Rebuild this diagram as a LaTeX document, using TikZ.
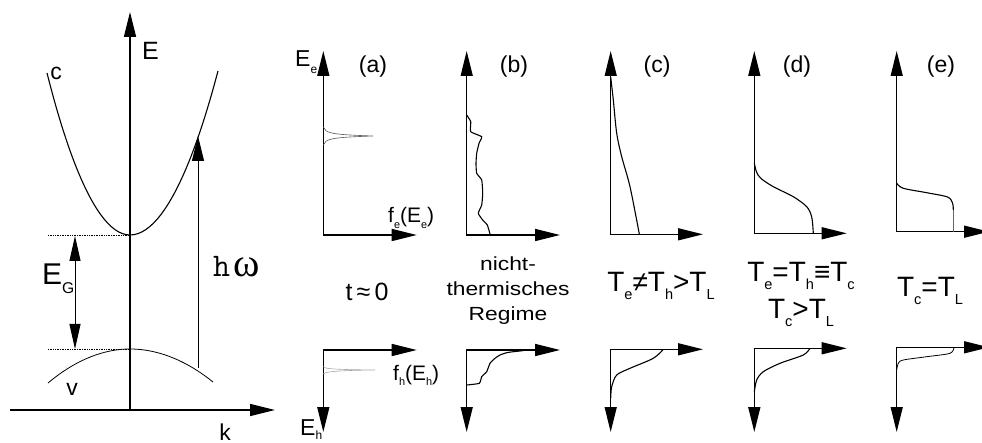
\documentclass[tikz,border=0pt]{standalone}
\usepackage{fontspec}
\setmainfont{Liberation Sans}
\newfontfamily\serff{Liberation Serif}
\usetikzlibrary{arrows.meta}
\newcommand{\sbs}[1]{\raisebox{-0.28em}{\scalebox{0.52}{#1}}}
\tikzset{
  axis/.style={line width=1.4pt, {Triangle[length=25pt,width=12pt]}-{Triangle[length=25pt,width=12pt]}},
  oneaxis/.style={line width=1.4pt, -{Triangle[length=25pt,width=12pt]}},
  thinarrow/.style={line width=1pt, -{Triangle[length=25pt,width=12pt]}},
  dblarrow/.style={line width=1pt, {Triangle[length=25pt,width=11pt]}-{Triangle[length=25pt,width=11pt]}},
  curve/.style={line width=1.1pt},
  thincurve/.style={line width=0.8pt},
  peak/.style={line width=0.6pt, draw=black!65},
  lightpeak/.style={line width=0.6pt, draw=black!35},
  dots/.style={line width=0.7pt, densely dotted},
  txt/.style={inner sep=0pt, anchor=base, font=\fontsize{#1}{#1}\selectfont},
  txtw/.style={inner sep=0pt, anchor=base west, font=\fontsize{#1}{#1}\selectfont},
}
\begin{document}
\begin{tikzpicture}[x=1pt,y=-1pt]
\useasboundingbox (0,0) rectangle (982,443);
% ---------- band diagram ----------
\coordinate (kL) at (10,410);
\coordinate (kR) at (275,410);
\coordinate (E0) at (130,410);
\coordinate (ET) at (130,12);
\draw[oneaxis] (kL) -- (kR);
\draw[oneaxis] (E0) -- (ET);
\coordinate (cL) at (47,73);
\coordinate (cB) at (130,235);
\coordinate (cR) at (218,71);
\draw[curve] (cL) parabola bend (cB) (cR);
\coordinate (vL) at (48,383);
\coordinate (vB) at (130,349);
\coordinate (vR) at (213,382);
\draw[thincurve] (vL) parabola bend (vB) (vR);
\coordinate (dc) at (48,235);
\coordinate (dv) at (48,349);
\draw[dots] (dc) -- (cB);
\draw[dots] (dv) -- (vB);
\coordinate (gT) at (75,236);
\coordinate (gB) at (75,349);
\draw[dblarrow] (gB) -- (gT);
\coordinate (hB) at (198,368);
\coordinate (hT) at (198,136);
\draw[thinarrow] (hB) -- (hT);
\node[txtw=25] (lE) at (142,60) {E};
\node[txt=23] (lc) at (56,80) {c};
\node[txt=23] (lv) at (72,395) {v};
\node[txt=23] (lk) at (225,440) {k};
\node[txtw=30] (lEG) at (42,285) {E\sbs{G}};
\node[txtw=33] (lhw) at (213,277) {{\ttfamily h}\kern3pt{\serff\fontsize{40}{40}\selectfont ω}};
% ---------- distribution panels ----------
\foreach \p/\x/\yt/\yb/\xr in {a/323.3/235/350/416.7, b/466.7/235/350/560, c/610.7/234.3/349.3/703, d/754.3/233.3/348.3/846.7, e/896.7/231.7/347.3/989}{
  \coordinate (\p O) at (\x,\yt);
  \coordinate (\p T) at (\x,51);
  \coordinate (\p R) at (\xr,\yt);
  \coordinate (\p Q) at (\x,\yb);
  \coordinate (\p D) at (\x,432);
  \coordinate (\p S) at (\xr,\yb);
  \draw[axis] (\p T) -- (\p O) -- (\p R);
  \draw[axis] (\p D) -- (\p Q) -- (\p S);
}
% panel labels
\node[txt=23] (la) at (373,72.5) {(a)};
\node[txt=23] (lb) at (514,72.5) {(b)};
\node[txt=23] (lcc) at (657,72.5) {(c)};
\node[txt=23] (ld) at (797,72.5) {(d)};
\node[txt=23] (le) at (941,72.5) {(e)};
\node[txtw=23] (lEe) at (295,67) {E\sbs{e}};
\node[txtw=21] (lfe) at (388,223) {f\sbs{e}(E\sbs{e})};
\node[txtw=21] (lfh) at (393,380) {f\sbs{h}(E\sbs{h})};
\node[txtw=23] (lEh) at (300,435) {E\raisebox{-0.2em}{\scalebox{0.52}{h}}};
\node[txt=25] (lt) at (367,301) {t\,≈\,0};
\node[inner sep=0pt, anchor=base, align=center, font=\fontsize{19}{25.5}\selectfont, xscale=1.2, transform shape] (lnt) at (508,321) {nicht-\\thermisches\\Regime};
\node[txt=28] (lTc) at (661,291.7) {T\sbs{e}≠T\sbs{h}>T\sbs{L}};
\node[txt=28] (lTd1) at (801,281.7) {T\sbs{e}=T\sbs{h}≡T\sbs{c}};
\node[txt=28] (lTd2) at (801,318.3) {T\sbs{c}>T\sbs{L}};
\node[txt=28] (lTe) at (930,296.7) {T\sbs{c}=T\sbs{L}};
% (a) peaks
\draw[peak] (323.3,127) .. controls (326,133) and (329,134.5) .. (373,136)
            .. controls (329,137.5) and (326,139) .. (323.3,145);
\draw[lightpeak] (323.3,366.7) .. controls (325,368.5) and (328,369.5) .. (375,370)
            .. controls (328,370.5) and (325,372.5) .. (323.3,374);
% (b) non-thermal
\draw[curve, line join=round] plot[smooth, tension=0.3] coordinates {(466.7,115) (470.7,121.7) (470.7,131.7) (481.7,136.7) (479,143.3) (476.7,153.3) (476,163.3) (476.7,173.3) (481.7,180) (482.7,193.3) (481.7,205) (478.3,213.3) (482.7,220) (487.3,225) (490,234)};
\draw[curve, line join=round] plot[smooth, tension=0.3] coordinates {(466.7,385) (479.3,383.3) (481.7,376.7) (486.7,371.7) (490,363.3) (495,358.3) (500,355) (506.7,352.7) (513.3,351.7) (520,351) (527,350)};
% (c)
\draw[curve] plot[smooth] coordinates {(610.7,77) (613.3,100) (616.7,133.3) (621.7,156.7) (630,186.7) (639.3,234)};
\draw[curve] plot[smooth] coordinates {(663.3,349.3) (653.3,358.3) (630,368.3) (616.7,375) (611.7,386.7) (610.7,398)};
% (d)
\draw[curve] plot[smooth] coordinates {(754.3,163) (756.5,172) (761,178.5) (773.3,186.7) (793.3,196.7) (806.7,206.7) (811.7,217) (813.3,233.3)};
\draw[curve] plot[smooth] coordinates {(810,348.3) (803.3,355) (780,363.3) (763.3,371.7) (756.7,380) (754.3,392)};
% (e)
\draw[curve] plot[smooth] coordinates {(896.7,183.3) (903.3,188.3) (926.7,192.7) (947.5,197) (952.5,203) (953.3,210)};
\draw[line width=0.8pt, black!60] (953.3,210) -- (953.3,231.7);
\draw[thincurve] plot[smooth] coordinates {(954,347.3) (950,353.3) (926.7,356.7) (903.3,360) (898.3,363.3) (896.7,370)};
\end{tikzpicture}
\end{document}
